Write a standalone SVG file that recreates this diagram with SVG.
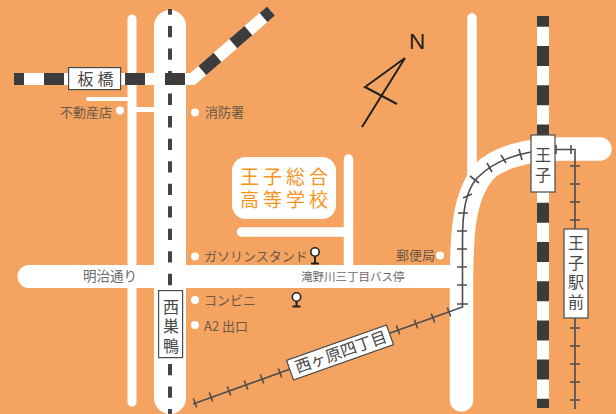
<svg xmlns="http://www.w3.org/2000/svg" width="616" height="414" viewBox="0 0 616 414">
<style>
text{font-family:"Noto Sans CJK JP","Noto Sans",sans-serif}
.road{fill:none;stroke:#fff;stroke-linecap:round;stroke-linejoin:round}
.railw{fill:none;stroke:#fff;stroke-width:12;stroke-linejoin:miter}
.raild{fill:none;stroke:#3c3c3c;stroke-width:12}
.track{fill:none;stroke:#4d4d4d;stroke-width:1.6}
.box{fill:#fff;stroke:#4a4a4a;stroke-width:1.2}
.st{font-size:16px;fill:#484848}
.v{writing-mode:vertical-rl}
.lb{font-size:13px;fill:#6b5848}
.rd{fill:#6a6a6a}
.dot{fill:#fff}
.sc{font-size:19px;fill:#f7941e;letter-spacing:4px}
</style>
<rect width="616" height="414" fill="#f5a360"/>
<g id="connectors">
<g id="roads">
<path class="road" stroke-width="9" d="M132 19V402"/>
<path class="road" stroke-width="32" d="M170 26V398"/>
<path class="road" stroke-width="4" stroke-linecap="butt" d="M88 99H130"/>
<path class="road" stroke-width="5" style="stroke-linecap:butt" d="M136 109.500H156"/>
<path class="road" stroke-width="9.500" d="M241.500 232H348.500M348.500 159V270"/>
<path class="road" stroke-width="23" d="M29 276.500H460"/>
<path class="road" stroke-width="9.500" d="M472 18V175"/>
<path class="road" stroke-width="23.500" d="M461.500 400V285C461.500 240 462 192 488 168C505 155 530 150 560 149H600"/>
</g>
<g id="rails">
<path d="M170 9V414" fill="none" stroke="#444" stroke-width="4" stroke-dasharray="11.300 11.230" stroke-dashoffset="5.530"/>
<path class="railw" d="M14 79H192.500L271 11"/>
<path class="raild" d="M14 79H24M44 79H64M125 79H145M165 79H185"/>
<path class="raild" d="M202.300 70.500L217.500 57.400M233.300 43.600L248.400 30.600M263.500 17.500L271 11"/>
<path class="railw" d="M543 16V408"/>
<path class="raild" stroke-dasharray="20 19.200" stroke-dashoffset="9.200" d="M543 16V408"/>
</g>
<g id="tracks">
<path class="track" d="M531 152C508 156 490 165 477 178C466 191 462.500 210 462.500 240V307L193 404"/>
<path class="track" d="M555 149.500H575V409"/>
<path class="track" d="M458 213H468M457 231H467M457 249H467M457 267H467M457 285H467M457 304H468M463 198L472 194M470 176L479 183M487 163L492 172M501 155L506 163M519 149L522 160M556 145V154M571 145V154M570 166H580M570 184H580M570 202H580M570 220H580M570 328H580M570 346H580M570 364H580M570 382H580M570 400H580M396.300 325.500L399.700 334.500M414.300 319.500L417.700 328.500M431.300 313.500L434.700 322.500M447.300 307.500L450.700 316.500M278.300 368.500L281.700 377.500M260.300 374.500L263.700 383.500M244.300 380.500L247.700 389.500M227.300 386.500L230.700 395.500M209.300 392.500L212.700 401.500M193.300 398.500L196.700 407.500"/>
</g>
</g>
<g id="north">
<path d="M405 58L362 127M405 58L365 87L397 104" fill="none" stroke="#222" stroke-width="2"/>
<text x="409" y="49" font-size="22.500" fill="#222" style="font-family:'Liberation Sans',sans-serif">N</text>
</g>
<g id="school">
<rect x="232" y="157" width="104" height="62" rx="14" fill="#fff"/>
<text class="sc"><tspan x="240" y="184">王子総合</tspan><tspan x="240" y="207">高等学校</tspan></text>
</g>
<g id="station-itabashi">
<rect class="box" x="68.600" y="67.600" width="52" height="22"/>
<text class="st" x="77.500" y="85" style="letter-spacing:4px">板橋</text>
</g>
<g id="station-nishisugamo">
<rect class="box" x="158.600" y="290.600" width="24" height="67"/>
<text class="st v" x="171" y="298.500" style="letter-spacing:3.500px">西巣鴨</text>
</g>
<g id="station-oji">
<rect class="box" x="531" y="135" width="24" height="57"/>
<text class="st v" x="543" y="147" style="letter-spacing:4px">王子</text>
</g>
<g id="station-ojiekimae">
<rect class="box" x="564" y="229" width="24" height="89"/>
<text class="st v" x="576" y="235" style="letter-spacing:3.700px">王子駅前</text>
</g>
<g id="station-nishigahara" transform="translate(340 352.500) rotate(-19.500)">
<rect class="box" x="-53" y="-10.500" width="106" height="21"/>
<text class="st" x="-47" y="5.500">西ヶ原四丁目</text>
</g>
<g id="poi-fudosan"><circle class="dot" cx="120" cy="110.500" r="4"/><text class="lb" x="60" y="116.500">不動産店</text></g>
<g id="poi-shobo"><circle class="dot" cx="195" cy="112.500" r="4"/><text class="lb" x="205" y="117">消防署</text></g>
<g id="poi-gas"><circle class="dot" cx="195" cy="256.500" r="4"/><text class="lb" x="204" y="260.500">ガソリンスタンド</text></g>
<g id="poi-conbini"><circle class="dot" cx="195" cy="300" r="4"/><text class="lb" x="204" y="304.500">コンビニ</text></g>
<g id="poi-a2"><circle class="dot" cx="195" cy="325" r="4"/><text class="lb" x="204" y="331">A2 出口</text></g>
<g id="poi-post"><circle class="dot" cx="440" cy="255.500" r="4"/><text class="lb" x="396" y="260">郵便局</text></g>
<g id="bus-1"><path d="M315 256V263M311 263.500H319" stroke="#222" stroke-width="2" fill="none"/><circle cx="315" cy="252" r="4.200" fill="#fff" stroke="#222" stroke-width="1.600"/></g>
<g id="bus-2"><path d="M296.500 301V306M292.500 306.500H300.500" stroke="#222" stroke-width="2" fill="none"/><circle cx="296.500" cy="297" r="4.200" fill="#fff" stroke="#222" stroke-width="1.600"/></g>
<g id="road-labels">
<text class="rd" x="83" y="281" font-size="13.500">明治通り</text>
<text class="rd" x="301" y="280.500" font-size="11.500">滝野川三丁目バス停</text>
</g>
</svg>
